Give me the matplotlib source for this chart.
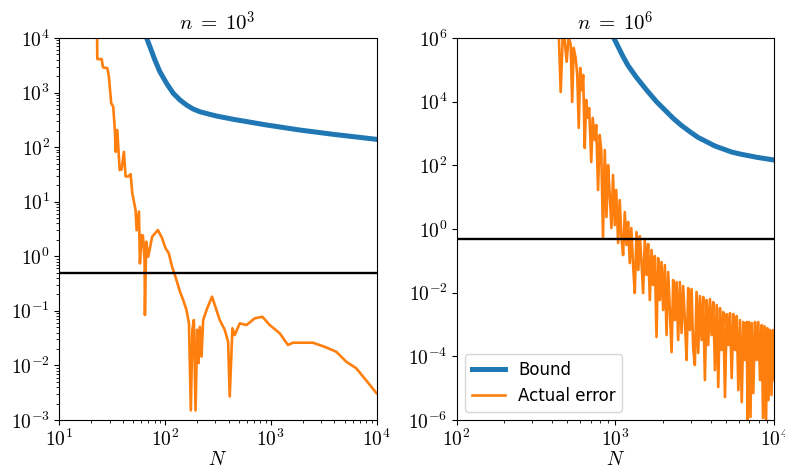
import matplotlib
matplotlib.use('Agg')
import matplotlib.pyplot as plt
import numpy as np
from matplotlib.ticker import FuncFormatter, NullLocator

plt.rcParams['mathtext.fontset'] = 'cm'

# threshold line
threshold = 0.5

# ---- n = 10^3 ----
n3_N_bound = [65, 67.2, 72.2, 80.5, 89.7, 103.7, 120, 139, 160, 185, 214, 255, 307, 441, 910, 1879, 3870, 10000]
n3_bound = [1.3e4, 1.0e4, 6930, 3950, 2414, 1480, 970, 731, 592, 500, 446, 407, 372, 324, 255, 206, 172, 139]

n3_N_err = [22.8, 23.0, 25.3, 26.0, 28.6, 29.6, 31.1, 32.5, 33.7, 34.3, 35.5, 37.4, 39.0, 41.0,
            42.6, 45, 47.5, 49.2, 52.9, 54.1, 56.9, 58.1, 60.3, 62, 64.3, 64.8, 66.6, 69.6,
            75.9, 85.9, 94.3, 101.6, 109, 117, 126, 139, 149, 160, 169, 176, 182, 188, 195,
            202, 208, 214, 222, 230, 251, 279, 307, 330, 368, 396, 410, 435, 457, 510, 590,
            706, 835, 979, 1216, 1455, 1623, 2094, 2506, 3230, 4169, 5176, 6430, 7709, 10000]
n3_err = [2e4, 4.1e3, 4.1e3, 2.9e3, 2.8e3, 1.95e3, 640, 550, 206, 82, 206, 38, 39, 82,
          29, 29, 32, 14.3, 7.0, 3.0, 6.6, 0.74, 2.45, 2.4, 0.86, 0.084, 1.85, 0.98,
          2.29, 3.03, 2.13, 1.40, 1.13, 0.64, 0.42, 0.224, 0.158, 0.104, 0.059, 0.0015, 0.045, 0.068, 0.0015,
          0.045, 0.011, 0.051, 0.0145, 0.068, 0.111, 0.182, 0.104, 0.068, 0.045, 0.027, 0.0027, 0.048, 0.036, 0.059, 0.055,
          0.073, 0.078, 0.055, 0.039, 0.0237, 0.0261, 0.0261, 0.0261, 0.022, 0.0178, 0.0117, 0.0089, 0.0058, 0.0031]

# ---- n = 10^6 ----
n6_N_bound = [960, 979, 1120, 1205, 1361, 1574, 1820, 2053, 2316, 2600, 2951, 3330, 3760, 4240,
              4786, 5400, 6100, 7780, 10000]
n6_bound = [1.3e6, 1.0e6, 2.59e5, 1.35e5, 5.75e4, 2.32e4, 9.97e3, 5470, 3.0e3, 1820, 1138, 748, 552, 405,
            326, 262, 227, 179, 147]

n6_N_err = [440, 453, 467, 480, 494, 509, 524, 535, 547, 563, 576, 589, 601, 615, 628, 642, 656, 670,
            685, 706, 721, 743, 759, 779, 798, 816, 837, 859, 880, 901, 923, 946, 968, 993, 1014,
            1042, 1067, 1091, 1120, 1148, 1177, 1205, 1234, 1262, 1295, 1327, 1361, 1397, 1428,
            1460, 1498, 1535, 1574, 1611, 1651, 1692, 1731, 1774, 1819, 1862, 1909, 1956, 2003,
            2053, 2104, 2154, 2207, 2263, 2316, 2373, 2432, 2490, 2552, 2616, 2678, 2744, 2813,
            2880, 2951, 3024, 3096, 3172, 3252, 3329, 3412, 3498, 3581, 3670, 3762, 3851, 3947,
            4046, 4142, 4245, 4351, 4454, 4565, 4680, 4791, 4910, 5033, 5153, 5281, 5413, 5542,
            5680, 5822, 5961, 6109, 6262, 6411, 6571, 6735, 6813, 6955, 7109, 7235, 7404, 7590,
            7780, 7965, 8164, 8366, 8526, 8713, 8904, 9074, 9232, 9434, 9641, 9852, 10000]
n6_err = [1.8e6, 2.0e4, 1.2e6, 8.7e5, 1.8e5, 1.15e6, 6.0e5, 9.8e3, 4.9e5, 2.35e5, 6.9e4, 1.5e3,
          1.14e5, 2.3e4, 6.9e4, 350, 1.13e4, 3.1e3, 6.3e3, 127, 3.1e3, 624, 1.85e3, 16.8, 897,
          303, 0.56, 303, 2.38, 102, 11.7, 1.07, 49.7, 1.33, 16.8, 0.363, 8.1, 0.647, 0.152,
          3.41, 0.314, 1.66, 0.0853, 1.07, 0.0738, 0.00975, 0.80, 0.0514, 0.60, 0.106, 0.00975,
          0.451, 0.0358, 0.337, 0.00587, 0.219, 0.0174, 0.142, 4.04e-4, 0.1225, 0.00587, 0.0918,
          2.85e-3, 0.0738, 4.67e-4, 0.0445, 2.85e-3, 1.36e-4, 0.0249, 1.38e-3, 0.0216, 3.25e-4,
          0.0216, 5.4e-4, 0.0162, 1.38e-3, 7.65e-5, 0.014, 6.7e-4, 0.013, 1.82e-4, 5.33e-5,
          0.0105, 1.27e-4, 7.8e-3, 3.25e-4, 7.3e-3, 1.8e-5, 5.87e-3, 2.26e-4, 6.3e-3, 4.67e-4,
          5.08e-3, 3.7e-5, 4.09e-3, 1.08e-5, 3.29e-3, 1.58e-4, 2.47e-3, 5.26e-6, 2.13e-3, 2.26e-4,
          2.29e-3, 2.08e-5, 2.13e-3, 1.58e-4, 1.85e-3, 8.7e-6, 1.38e-3, 3.66e-6, 1.2e-3, 7.65e-5,
          1.2e-3, 6.9e-7, 1.2e-3, 1.24e-6, 1.11e-3, 7.0e-6, 1.2e-3, 7.65e-5, 1.2e-3, 1.8e-5,
          9.6e-4, 1.15e-6, 8.95e-4, 6.9e-7, 7.7e-4, 4.2e-6, 6.7e-4, 6.1e-6, 6.7e-4, 1.8e-5]

titles = [r'$n\;=\;10^3$', r'$n\;=\;10^6$']
xlims = [(1e1, 1e4), (1e2, 1e4)]
ylims = [(1e-3, 1e4), (1e-6, 1e6)]

fig, axes = plt.subplots(1, 2, figsize=(7.85, 4.73), dpi=100)
fig.subplots_adjust(left=0.0752, right=0.986, bottom=0.112, top=0.9197, wspace=0.252)

data = [(n3_N_bound, n3_bound, n3_N_err, n3_err), (n6_N_bound, n6_bound, n6_N_err, n6_err)]
fmt = FuncFormatter(lambda v, p: r'$10^{%d}$' % int(round(np.log10(v))))

for i, ax in enumerate(axes):
    Nb, b, Ne, e = data[i]
    ax.plot(Nb, b, color='#1f77b4', lw=3.6, label='Bound')
    ax.plot(Ne, e, color='#ff7f0e', lw=1.9, label='Actual error')
    ax.axhline(threshold, color='black', lw=1.7)
    ax.set_xscale('log')
    ax.set_yscale('log')
    ax.set_xlim(*xlims[i])
    ax.set_ylim(*ylims[i])
    ax.set_title(titles[i], fontsize=15, pad=5)
    ax.set_xlabel(r'$N$', fontsize=14, labelpad=0)
    ax.xaxis.set_major_formatter(fmt)
    ax.yaxis.set_major_formatter(fmt)
    ax.tick_params(labelsize=14, pad=3)

axes[1].set_yticks([1e-6, 1e-4, 1e-2, 1e0, 1e2, 1e4, 1e6])
axes[1].yaxis.set_minor_locator(NullLocator())
axes[1].legend(loc='lower left', fontsize=12, handlelength=2.0)

plt.savefig('out.png', dpi=100)
